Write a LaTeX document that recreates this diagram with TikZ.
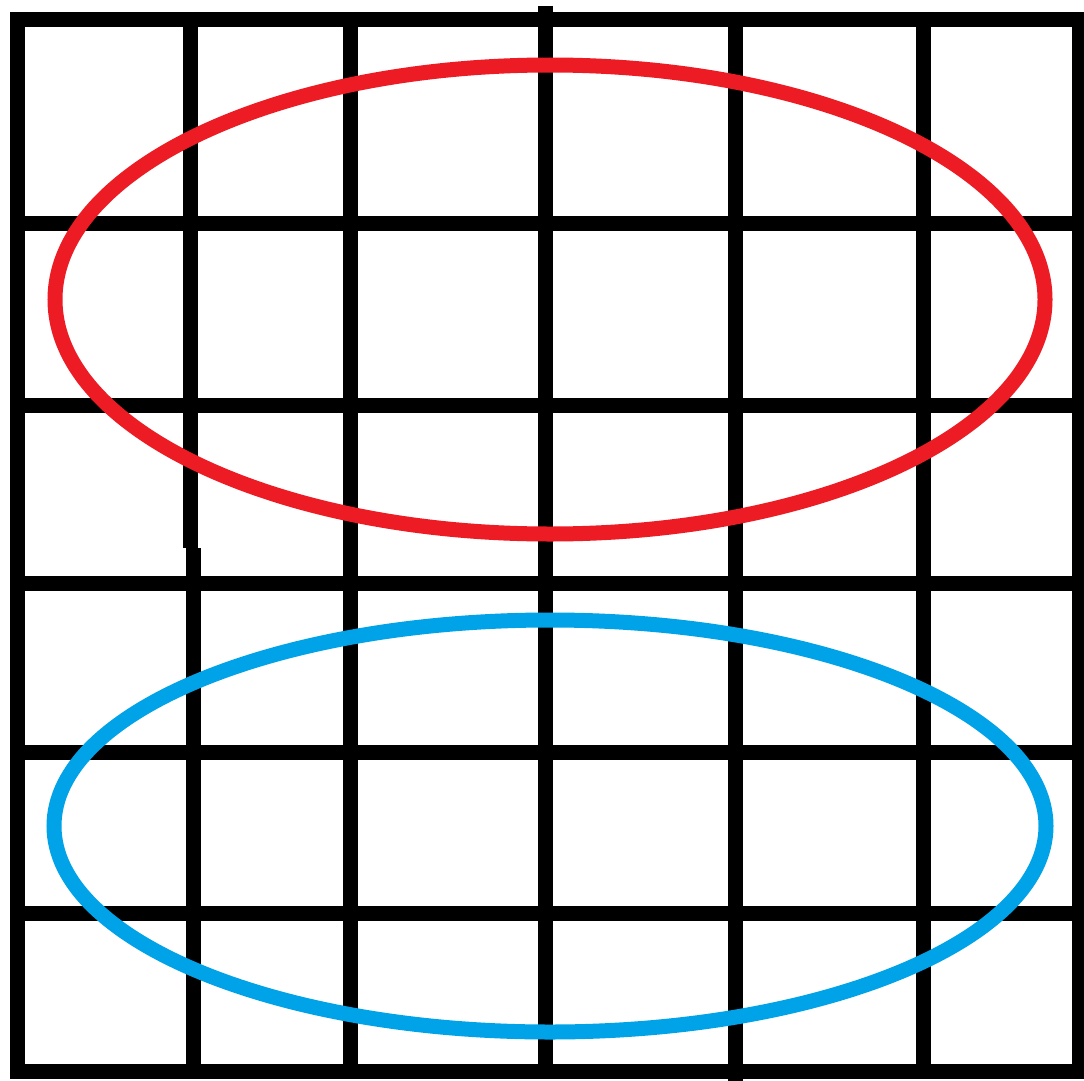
\documentclass[tikz,border=0pt]{standalone}
\usepackage{tikz}
\usepackage{xcolor}
\definecolor{ringred}{HTML}{ED1C24}
\definecolor{ringblue}{HTML}{00A2E8}

\begin{document}
\begin{tikzpicture}[
  x=1pt, y=-1pt,
  gridline/.style={draw=black, line width=15pt, line cap=butt},
  ring/.style={line width=15pt},
  redring/.style={ring, draw=ringred},
  bluering/.style={ring, draw=ringblue}
]
  \useasboundingbox (0,0) rectangle (1084,1081);
  \fill[white] (0,0) rectangle (1084,1081);
  \clip (0,0) rectangle (1084,1081);

  % Horizontal grid lines
  \foreach \y in {19.5,223,405,583,752,913,1071}{
    \draw[gridline] (10,\y) -- (1084,\y);
  }

  % Vertical grid lines
  \draw[gridline] (17.5,12) -- (17.5,1079);
  \draw[gridline] (190,12) -- (190,548);
  \draw[gridline] (193,548) -- (193,1079);
  \draw[gridline] (350.5,12) -- (350.5,1079);
  \draw[gridline] (545,6) -- (545,1079);
  \draw[gridline] (735.5,12) -- (735.5,1081);
  \draw[gridline] (923.5,12) -- (923.5,1079);
  \draw[gridline] (1079,12) -- (1079,1079);

  % Rings
  \draw[redring] (550,299.5) ellipse [x radius=495, y radius=234.5];
  \draw[bluering] (550,826) ellipse [x radius=496, y radius=206];
\end{tikzpicture}
\end{document}
